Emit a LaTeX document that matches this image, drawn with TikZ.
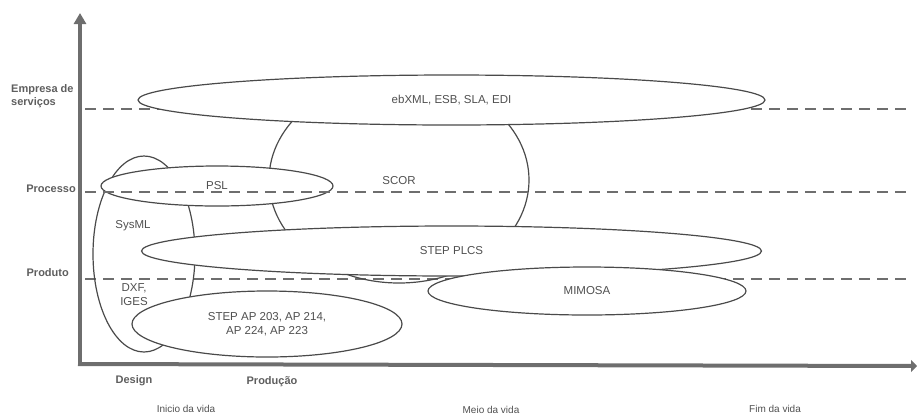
\documentclass[tikz,border=0pt]{standalone}
\usepackage{fontspec}
\setmainfont{Liberation Sans}
\usetikzlibrary{shapes.geometric,arrows.meta}
\definecolor{axisgray}{HTML}{6E6E6E}
\definecolor{linegray}{HTML}{4A4A4A}
\definecolor{textgray}{HTML}{505050}
\definecolor{labelgray}{HTML}{5E5E5E}
\tikzset{
  ell/.style={ellipse, draw=linegray, line width=1.2pt, inner sep=0pt,
    text=textgray, font=\fontsize{11.5}{14}\selectfont, align=center},
  ellw/.style={ell, fill=white},
  levelline/.style={draw=axisgray, line width=2.4pt, dash pattern=on 11pt off 7pt},
  axisline/.style={draw=axisgray, line width=4pt},
  levellabel/.style={text=labelgray, font=\fontsize{11}{13}\selectfont\bfseries, inner sep=0pt},
  phaselabel/.style={text=labelgray, font=\fontsize{11}{13}\selectfont\bfseries, inner sep=0pt},
  lifelabel/.style={text=textgray, font=\fontsize{10}{12}\selectfont, inner sep=0pt},
  plain/.style={text=textgray, font=\fontsize{11.5}{14}\selectfont, inner sep=0pt, align=center}
}
\begin{document}
\begin{tikzpicture}[x=1pt,y=-1pt]
\useasboundingbox (0,0) rectangle (917,416);
% level guide coordinates
\coordinate (e1) at (85,109); \coordinate (e2) at (910,109);
\coordinate (p1) at (85,192); \coordinate (p2) at (910,192);
\coordinate (d1) at (85,279); \coordinate (d2) at (910,279);
% dashed levels that lie under filled ellipses
\draw[levelline] (e1) -- (e2);
\draw[levelline] (d1) -- (d2);
% transparent ellipses
\node[ell, minimum width=102pt, minimum height=196pt] (sysml) at (144,254) {};
\node[ell, minimum width=260pt, minimum height=206pt] (scor) at (399,180) {};
\node[plain] (scorlbl) at (399,181) {SCOR};
% PSL
\node[ellw, minimum width=232pt, minimum height=40pt] (psl) at (217,186) {PSL};
% Processo dashed level above PSL and SCOR
\draw[levelline] (p1) -- (p2);
% filled ellipses
\node[ellw, minimum width=627pt, minimum height=50pt] (ebxml) at (451.5,100) {ebXML, ESB, SLA, EDI};
\node[ellw, minimum width=620pt, minimum height=50pt] (plcs) at (451.5,251) {STEP PLCS};
\node[ellw, minimum width=318pt, minimum height=48pt] (mimosa) at (587,291) {MIMOSA};
\node[ellw, minimum width=270pt, minimum height=66pt] (stepap) at (267,324) {STEP AP 203, AP 214,\\AP 224, AP 223};
% labels inside SysML
\node[plain] (sysmllbl) at (133,226) {SysML};
\node[plain] (dxflbl) at (134,295) {DXF,\\IGES};
% axes
\coordinate (origin) at (80,364);
\coordinate (ytop) at (80,13);
\coordinate (xend) at (917,366);
\draw[axisline, -{Triangle[width=12pt,length=11pt]}] (origin) -- (ytop);
\draw[axisline, -{Triangle[width=12pt,length=6pt]}] (78,364) -- (xend);
% level labels
\node[levellabel, anchor=west, align=left] (lblemp) at (11,96.5) {Empresa de\\serviços};
\node[levellabel, anchor=east] (lblproc) at (76,189) {Processo};
\node[levellabel, anchor=east] (lblprod) at (69,273) {Produto};
% phase labels
\node[phaselabel] (lbldesign) at (134,381) {Design};
\node[phaselabel] (lblproducao) at (272,382) {Produção};
\node[lifelabel] (lblinicio) at (186,409) {Inicio da vida};
\node[lifelabel] (lblmeio) at (491,410) {Meio da vida};
\node[lifelabel] (lblfim) at (775,409) {Fim da vida};
\end{tikzpicture}
\end{document}
